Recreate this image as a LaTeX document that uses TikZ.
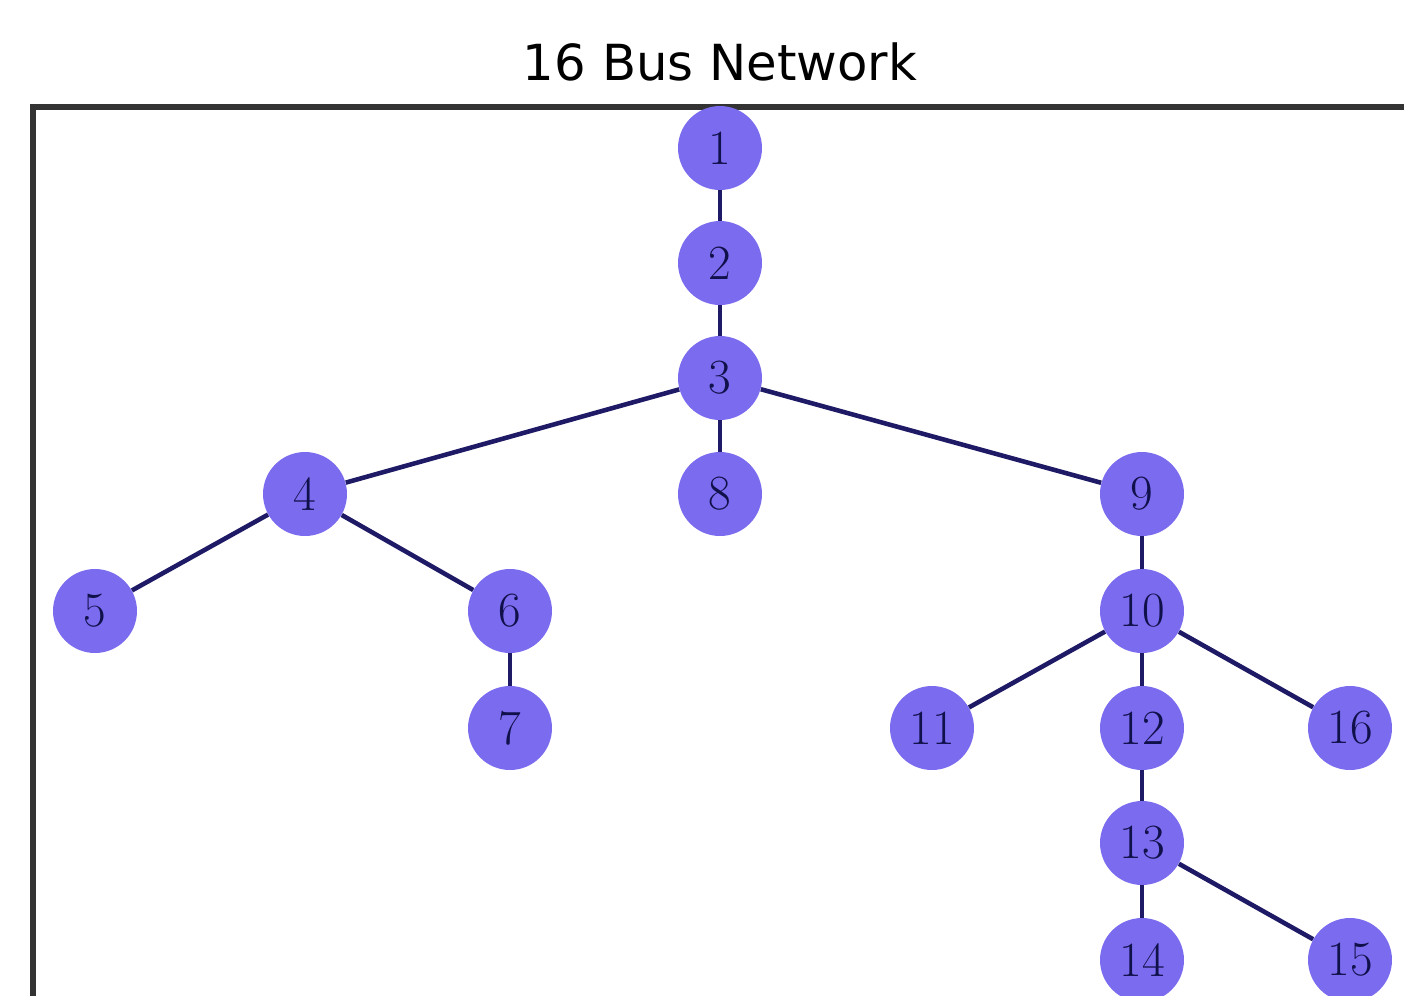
\documentclass[tikz,border=0pt]{standalone}
\usepackage{fontspec}
\newfontfamily\titlefont{DejaVu Sans}
\definecolor{busfill}{HTML}{7B6BEE}
\definecolor{busline}{HTML}{1E1A66}
\definecolor{buslabel}{HTML}{10104A}
\definecolor{framecol}{HTML}{333333}
\begin{document}
\begin{tikzpicture}[x=0.02cm,y=-0.02cm,
  bus/.style={circle,fill=busfill,inner sep=0pt,minimum size=1.68cm,
    text=buslabel,font=\fontsize{28}{28}\selectfont},
  feeder/.style={draw=busline,line width=2.6pt}]
\useasboundingbox (0,0) rectangle (1404,995);
\clip (0,0) rectangle (1404,995);
% title
\node[font=\titlefont\fontsize{28.3}{30}\selectfont,text=black] (title) at (720,62) {16 Bus Network};
% axes frame (runs past the picture edges)
\draw[framecol,line width=3.5pt] (33,1010) -- (33,107) -- (1420,107);
% buses
\node[bus] (b1) at (720,148) {1};
\node[bus] (b2) at (720,263) {2};
\node[bus] (b3) at (720,378) {3};
\node[bus] (b4) at (305,494) {4};
\node[bus] (b8) at (720,494) {8};
\node[bus] (b9) at (1142,494) {9};
\node[bus] (b5) at (95,611) {5};
\node[bus] (b6) at (510,611) {6};
\node[bus] (b10) at (1142,611) {10};
\node[bus] (b7) at (510,728) {7};
\node[bus] (b11) at (932,728) {11};
\node[bus] (b12) at (1142,728) {12};
\node[bus] (b16) at (1350,728) {16};
\node[bus] (b13) at (1142,843) {13};
\node[bus] (b14) at (1142,960) {14};
\node[bus] (b15) at (1350,960) {15};
% lines between buses
\draw[feeder] (b1) -- (b2);
\draw[feeder] (b2) -- (b3);
\draw[feeder] (b3) -- (b4);
\draw[feeder] (b3) -- (b8);
\draw[feeder] (b3) -- (b9);
\draw[feeder] (b4) -- (b5);
\draw[feeder] (b4) -- (b6);
\draw[feeder] (b6) -- (b7);
\draw[feeder] (b9) -- (b10);
\draw[feeder] (b10) -- (b11);
\draw[feeder] (b10) -- (b12);
\draw[feeder] (b10) -- (b16);
\draw[feeder] (b12) -- (b13);
\draw[feeder] (b13) -- (b14);
\draw[feeder] (b13) -- (b15);
\end{tikzpicture}
\end{document}
